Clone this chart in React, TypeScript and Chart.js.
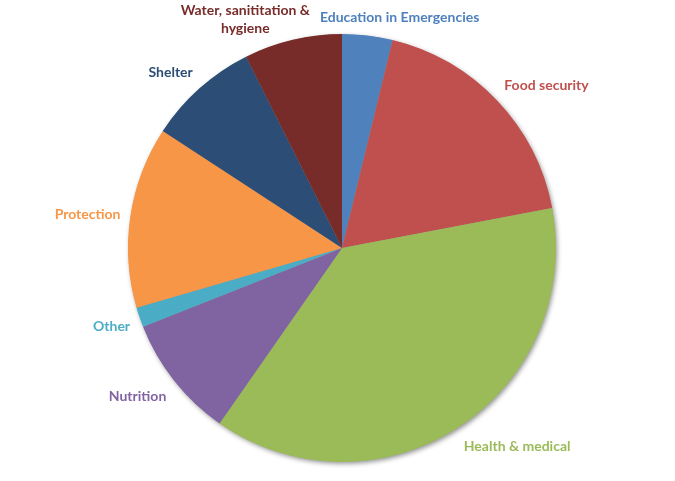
import React, { useEffect, useRef } from "react";
import { Chart, registerables } from "chart.js";

Chart.register(...registerables);

const categories = [
  "Education in Emergencies",
  "Food security",
  "Health & medical",
  "Nutrition",
  "Other",
  "Protection",
  "Shelter",
  "Water, sanititation &\nhygiene",
];
const shares = [3.8, 18.2, 37.7, 9.3, 1.5, 13.7, 8.4, 7.4];
const sliceColors = [
  "#4F81BD",
  "#C0504D",
  "#9BBB59",
  "#8064A2",
  "#4BACC6",
  "#F79646",
  "#2C4D75",
  "#772C2A",
];

const FONT = "bold 14px Lato";
const LINE_H = 18;
const LABEL_GAP = 10;
const TEXT_DY = 1;

const align = (v: number) => {
  const m = Math.max(0, Math.abs(v) * 2.2 - 0.15);
  return Math.sign(v) * Math.min(1, m);
};

const shadowPlugin = {
  id: "pieShadow",
  beforeDatasetsDraw(chart: any) {
    const meta = chart.getDatasetMeta(0);
    if (!meta.data.length) return;
    const p = meta.data[0].getProps(["x", "y", "outerRadius"], true);
    const ctx = chart.ctx;
    ctx.save();
    ctx.shadowColor = "rgba(0,0,0,0.45)";
    ctx.shadowBlur = 5;
    ctx.shadowOffsetX = 1.5;
    ctx.shadowOffsetY = 2;
    ctx.fillStyle = "#999";
    ctx.beginPath();
    ctx.arc(p.x, p.y, p.outerRadius - 0.5, 0, Math.PI * 2);
    ctx.fill();
    ctx.restore();
  },
};

const labelPlugin = {
  id: "outerLabels",
  afterDatasetsDraw(chart: any) {
    const ctx = chart.ctx;
    const meta = chart.getDatasetMeta(0);
    ctx.save();
    ctx.font = FONT;
    const boxes = meta.data.map((arc: any, i: number) => {
      const p = arc.getProps(["x", "y", "startAngle", "endAngle", "outerRadius"], true);
      const mid = (p.startAngle + p.endAngle) / 2;
      const R = p.outerRadius + LABEL_GAP;
      const ax = p.x + Math.cos(mid) * R;
      const ay = p.y + Math.sin(mid) * R;
      const lines = categories[i].split("\n");
      const w = Math.max(...lines.map((l) => ctx.measureText(l).width));
      const h = lines.length * LINE_H;
      const fx = align(Math.cos(mid));
      const fy = align(Math.sin(mid));
      let cx = ax + (fx * w) / 2;
      let cy = ay + (fy * h) / 2;
      cx = Math.min(Math.max(cx, w / 2), chart.width - w / 2);
      cy = Math.min(Math.max(cy, h / 2), chart.height - h / 2);
      return { cx, cy, w, h, lines, color: sliceColors[i] };
    });
    for (let i = 0; i < boxes.length; i++) {
      for (let j = i + 1; j < boxes.length; j++) {
        const a = boxes[i];
        const b = boxes[j];
        const ox = (a.w + b.w) / 2 - Math.abs(a.cx - b.cx);
        const oy = (a.h + b.h) / 2 - Math.abs(a.cy - b.cy);
        if (ox > 0 && oy > 0) {
          const shift = (ox + 10) / 2;
          const s = a.cx >= b.cx ? 1 : -1;
          a.cx += s * shift;
          b.cx -= s * shift;
        }
      }
    }
    ctx.textAlign = "center";
    ctx.textBaseline = "middle";
    boxes.forEach((b: any) => {
      ctx.fillStyle = b.color;
      b.lines.forEach((l: string, k: number) => {
        ctx.fillText(l, b.cx, b.cy - b.h / 2 + LINE_H * (k + 0.5) + TEXT_DY);
      });
    });
    ctx.restore();
  },
};

export default function App() {
  const canvasRef = useRef<HTMLCanvasElement | null>(null);

  useEffect(() => {
    document.body.style.margin = "0";
    const canvas = canvasRef.current;
    if (!canvas) return;
    const chart = new Chart(canvas, {
      type: "pie",
      data: {
        labels: categories,
        datasets: [
          {
            data: shares,
            backgroundColor: sliceColors,
            borderWidth: 0,
          },
        ],
      },
      options: {
        responsive: false,
        animation: false,
        layout: { padding: { left: 128, right: 119, top: 34, bottom: 19 } },
        plugins: {
          legend: { display: false },
          tooltip: { enabled: false },
          title: { display: false },
        },
      },
      plugins: [shadowPlugin, labelPlugin],
    });
    return () => chart.destroy();
  }, []);

  return (
    <div style={{ width: 675, height: 481, background: "#fff" }}>
      <canvas ref={canvasRef} width={675} height={481} style={{ display: "block" }} />
    </div>
  );
}
